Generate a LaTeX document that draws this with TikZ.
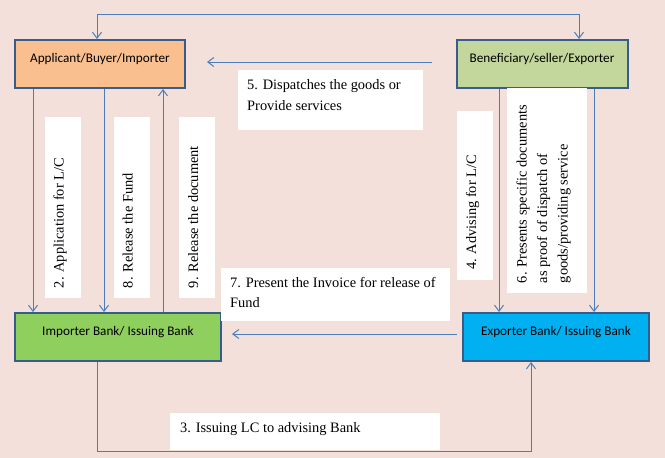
\documentclass[tikz,border=0pt]{standalone}
\usepackage{fontspec}
\setmainfont{Liberation Serif}
\newfontfamily\boxfont{Carlito}
\usepackage{tikz}
\usetikzlibrary{arrows.meta}

\definecolor{bgpink}{HTML}{F3E0DA}
\definecolor{boxline}{HTML}{385D8A}
\definecolor{connline}{HTML}{4A7EBB}
\definecolor{buyer}{HTML}{FABF8F}
\definecolor{seller}{HTML}{C3D69B}
\definecolor{impbank}{HTML}{8FCF5E}
\definecolor{expbank}{HTML}{00B0F0}

\begin{document}
\begin{tikzpicture}[x=1pt,y=-1pt]
        \tikzstyle{every node} = [rectangle, inner sep=0pt]
        \tikzstyle{party} = [draw=boxline, line width=2pt, text height=22pt, text depth=26pt,
                font=\boxfont\fontsize{13.2}{16}\selectfont]
        \tikzstyle{lbl} = [fill=white, anchor=north west]
        \tikzstyle{txt} = [font=\fontsize{14.4}{20.5}\selectfont, align=left]
        \tikzstyle{conn} = [draw=connline, line width=1pt, -{Straight Barb[length=6pt,width=9pt]}]

        \fill[bgpink] (0,0) rectangle (665,458);
        \useasboundingbox (0,0) rectangle (665,458);

        \node[party, fill=buyer, minimum width=170pt] (app) at (100,64) {Applicant/Buyer/Importer};
        \node[party, fill=seller, minimum width=171pt] (ben) at (542,64) {Beneficiary/seller/Exporter};
        \node[party, fill=impbank, minimum width=206pt] (imp) at (118,337) {Importer Bank/ Issuing Bank};
        \node[party, fill=expbank, minimum width=186pt] (exp) at (556,337) {Exporter Bank/ Issuing Bank};

        \node[lbl, minimum width=185pt, minimum height=60pt] (l5) at (238,70) {};
        \node[lbl, minimum width=229pt, minimum height=53pt] (l7) at (221,268) {};
        \node[lbl, minimum width=270pt, minimum height=37pt] (l3) at (170,413) {};
        \node[lbl, minimum width=36pt, minimum height=181pt] (l2) at (45,117) {};
        \node[lbl, minimum width=36pt, minimum height=181pt] (l8) at (114,117) {};
        \node[lbl, minimum width=36pt, minimum height=181pt] (l9) at (179,117) {};
        \node[lbl, minimum width=36pt, minimum height=169pt] (l4) at (457,111) {};
        \node[lbl, minimum width=80pt, minimum height=205pt] (l6) at (507,88) {};

        \node[txt, anchor=north west] (t5) at (247,79.5) {5. Dispatches the goods or\\Provide services};
        \node[txt, anchor=north west] (t7) at (230,277) {7. Present the Invoice for release of\\Fund};
        \node[txt, anchor=base west] (t3) at (180,432.5) {3. Issuing LC to advising Bank};
        \node[txt, rotate=90, anchor=base west] (t2) at (63.5,288.3) {2. Application for L/C};
        \node[txt, rotate=90, anchor=base west] (t8) at (132.5,288.3) {8. Release the Fund};
        \node[txt, rotate=90, anchor=base west] (t9) at (198,288.3) {9. Release the document};
        \node[txt, rotate=90, anchor=base west] (t4) at (476,270) {4. Advising for L/C};
        \node[txt, rotate=90, anchor=north west] (t6) at (516.2,283.3)
                {6. Presents specific documents\\as proof of dispatch of\\goods/providing service};

        \coordinate (d5) at (432,62);
        \coordinate (e5) at (207,62);
        \coordinate (d7) at (457,334);
        \coordinate (e7) at (232,334);

        \draw[conn, {Straight Barb[length=6pt,width=9pt]}-{Straight Barb[length=6pt,width=9pt]}]
                (app.north -| 97,0) -- (97,14) -| (ben.north -| 579,0);
        \draw[conn] (imp.south -| 97,0) -- (97,451) -| (exp.south -| 531,0);
        \draw[conn] (d5) -- (e5);
        \draw[conn] (d7) -- (e7);
        \foreach \x/\from/\to in {33/app.south/imp.north, 104/app.south/imp.north,
                163/imp.north/app.south, 499/ben.south/exp.north, 594/ben.south/exp.north}
            \draw[conn] (\from -| \x,0) -- (\to -| \x,0);
\end{tikzpicture}
\end{document}
